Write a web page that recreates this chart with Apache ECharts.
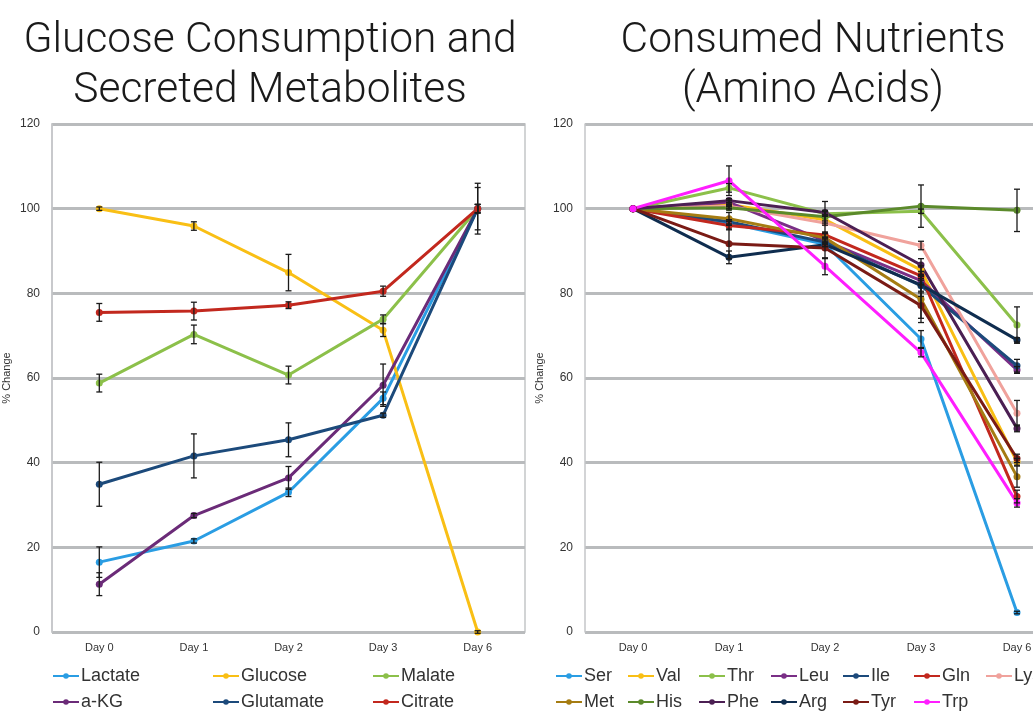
<!DOCTYPE html>
<html>
<head>
<meta charset="utf-8">
<script src="https://cdn.jsdelivr.net/npm/echarts@6/dist/echarts.min.js"></script>
<style>
html,body{margin:0;padding:0;background:#fff;overflow:hidden;width:1033px;height:716px;}
#main{width:1065px;height:716px;}
</style>
</head>
<body>
<div id="main"></div>
<script>
const days = ['Day 0', 'Day 1', 'Day 2', 'Day 3', 'Day 6'];
const yTicks = [0, 20, 40, 60, 80, 100, 120];

// Left chart: glucose & secreted metabolites
const leftNames = ['Lactate', 'Glucose', 'Malate', 'a-KG', 'Glutamate', 'Citrate'];
const leftColors = ['#2a9de3', '#f9bf15', '#8cc04a', '#6b2b78', '#1c4a7b', '#c2281e'];
const lactate   = [16.5, 21.5, 33.0, 55.2, 100];
const glucose   = [100, 95.9, 84.9, 71.3, 0];
const malate    = [58.8, 70.3, 60.7, 73.9, 100];
const aKG       = [11.3, 27.5, 36.4, 58.3, 100];
const glutamate = [34.9, 41.6, 45.4, 51.2, 100];
const citrate   = [75.5, 75.8, 77.2, 80.5, 100];
const lactateErr   = [3.6, 0.5, 1.0, 1.5, 1.0];
const glucoseErr   = [0.4, 1.0, 4.3, 1.5, 0.3];
const malateErr    = [2.1, 2.2, 2.1, 1.0, 1.0];
const aKGErr       = [2.7, 0.5, 2.7, 5.0, 1.0];
const glutamateErr = [5.2, 5.2, 4.0, 0.5, 6.0];
const citrateErr   = [2.1, 2.1, 0.8, 1.2, 5.0];

// Right chart: consumed amino acids
const rightNames = ['Ser', 'Val', 'Thr', 'Leu', 'Ile', 'Gln', 'Lys', 'Met', 'His', 'Phe', 'Arg', 'Tyr', 'Trp'];
const rightColors = ['#2a9de3', '#f9bf15', '#8cc04a', '#7a2f86', '#1c4a7b', '#c2281e', '#f0a29c',
                     '#a57c12', '#5b8a2b', '#4b1f53', '#0f2d4f', '#7a1b15', '#ff1eff'];
const ser = [100, 96.6, 91.6, 69.2, 4.6];
const val = [100, 101.0, 97.4, 85.5, 40.2];
const thr = [100, 104.9, 98.8, 99.4, 72.5];
const leu = [100, 101.5, 92.4, 83.0, 61.9];
const ile = [100, 96.9, 92.1, 81.8, 62.9];
const gln = [100, 96.0, 93.8, 84.1, 32.0];
const lys = [100, 100.6, 96.6, 91.3, 51.7];
const met = [100, 97.6, 93.1, 78.6, 36.7];
const his = [100, 100.2, 98.1, 100.6, 99.6];
const phe = [100, 101.9, 99.1, 86.7, 48.1];
const arg = [100, 88.5, 91.5, 82.0, 69.0];
const tyr = [100, 91.7, 90.7, 77.1, 41.0];
const trp = [100, 106.6, 86.4, 66.0, 30.5];
const serErr = [0, 0.5, 0.5, 2.0, 0.3];
const valErr = [0, 0.5, 0.8, 1.0, 0.8];
const thrErr = [0, 1.0, 0.5, 0.5, 4.3];
const leuErr = [0, 0.5, 0.5, 1.0, 0.8];
const ileErr = [0, 0.5, 0.5, 2.5, 1.5];
const glnErr = [0, 1.0, 0.5, 1.0, 1.5];
const lysErr = [0, 0.5, 0.5, 1.0, 3.0];
const metErr = [0, 1.5, 1.0, 5.5, 2.5];
const hisErr = [0, 0.5, 3.6, 5.0, 5.0];
const pheErr = [0, 0.5, 0.5, 1.5, 0.8];
const argErr = [0, 1.5, 0.5, 1.5, 0.5];
const tyrErr = [0, 3.5, 2.5, 3.0, 1.0];
const trpErr = [0, 3.5, 2.0, 1.0, 1.0];

const leftValues = [lactate, glucose, malate, aKG, glutamate, citrate];
const leftErrs = [lactateErr, glucoseErr, malateErr, aKGErr, glutamateErr, citrateErr];
const rightValues = [ser, val, thr, leu, ile, gln, lys, met, his, phe, arg, tyr, trp];
const rightErrs = [serErr, valErr, thrErr, leuErr, ileErr, glnErr, lysErr, metErr, hisErr, pheErr, argErr, tyrErr, trpErr];

const AX = 'Liberation Sans, Arial, sans-serif';
const GRID_COLOR = '#b9bbbd';

function errRender(params, api) {
  const x = api.value(0), v = api.value(1), e = api.value(2);
  if (!e) return null;
  const hi = api.coord([x, v + e]);
  const lo = api.coord([x, v - e]);
  const w = 3;
  const st = { stroke: '#1a1a1a', lineWidth: 1.3 };
  return {
    type: 'group',
    children: [
      { type: 'line', shape: { x1: hi[0], y1: hi[1], x2: lo[0], y2: lo[1] }, style: st },
      { type: 'line', shape: { x1: hi[0] - w, y1: hi[1], x2: hi[0] + w, y2: hi[1] }, style: st },
      { type: 'line', shape: { x1: lo[0] - w, y1: lo[1], x2: lo[0] + w, y2: lo[1] }, style: st }
    ]
  };
}

function xAxis(gi) {
  return {
    type: 'category', gridIndex: gi, data: days, boundaryGap: true,
    axisLine: { show: false }, axisTick: { show: false },
    axisLabel: { fontFamily: AX, fontSize: 11, color: '#333', margin: 10 }
  };
}
function yAxis(gi) {
  return {
    type: 'value', gridIndex: gi, min: 0, max: 120, interval: 20,
    name: '% Change', nameLocation: 'middle', nameGap: 40,
    nameTextStyle: { fontFamily: AX, fontSize: 11, color: '#333' },
    axisLine: { show: true, lineStyle: { color: '#c4c6c8', width: 1.5 } },
    axisTick: { show: false },
    axisLabel: { fontFamily: AX, fontSize: 12, color: '#333', margin: 12 },
    splitLine: { show: true, lineStyle: { color: GRID_COLOR, width: 3 } }
  };
}

const series = [];
function addSeries(names, values, errs, colors, gi) {
  names.forEach((n, i) => {
    series.push({
      name: n, type: 'line', xAxisIndex: gi, yAxisIndex: gi,
      data: values[i], color: colors[i],
      symbol: 'circle', symbolSize: 7,
      lineStyle: { width: 3, color: colors[i] },
      itemStyle: { color: colors[i] },
      emphasis: { disabled: true }, animation: false, z: 3
    });
  });
  names.forEach((n, i) => {
    series.push({
      name: 'err-' + n, type: 'custom', xAxisIndex: gi, yAxisIndex: gi,
      renderItem: errRender,
      data: values[i].map((v, k) => [k, v, errs[i][k]]),
      encode: { x: 0, y: 1 }, z: 4, animation: false, silent: true
    });
  });
}
addSeries(leftNames, leftValues, leftErrs, leftColors, 0);
addSeries(rightNames, rightValues, rightErrs, rightColors, 1);

const legends = [];
function legendItem(name, x, y) {
  legends.push({
    data: [name], left: x, top: y, padding: 0,
    itemWidth: 26, itemHeight: 7, selectedMode: false,
    textStyle: { fontFamily: AX, fontSize: 18, color: '#333', padding: [0, 0, 0, -3] }
  });
}
const leftCols = [52, 212, 372];
leftNames.forEach((n, i) => legendItem(n, leftCols[i % 3], i < 3 ? 667 : 693));
const rightCols = [555, 627, 698, 770, 842, 913, 985];
rightNames.forEach((n, i) => legendItem(n, rightCols[i % 7], i < 7 ? 667 : 693));

const titleStyle = { fontFamily: 'Roboto', fontWeight: 300, fontSize: 42.5, lineHeight: 50, color: '#1a1a1a' };

const option = {
  backgroundColor: '#ffffff',
  animation: false,
  title: [
    { text: 'Glucose Consumption and\nSecreted Metabolites', left: 265, top: 11, textAlign: 'center', textStyle: titleStyle },
    { text: 'Consumed Nutrients\n(Amino Acids)', left: 808, top: 11, textAlign: 'center', textStyle: titleStyle }
  ],
  grid: [
    { left: 51, width: 474, top: 124, bottom: 84, show: true, borderColor: '#c4c6c8', borderWidth: 1.5, backgroundColor: 'transparent' },
    { left: 585, right: 0, top: 124, bottom: 84, show: false }
  ],
  xAxis: [xAxis(0), xAxis(1)],
  yAxis: [yAxis(0), yAxis(1)],
  legend: legends,
  series: series
};

const chart = echarts.init(document.getElementById('main'), null, { renderer: 'canvas' });
chart.setOption(option);
</script>
</body>
</html>
